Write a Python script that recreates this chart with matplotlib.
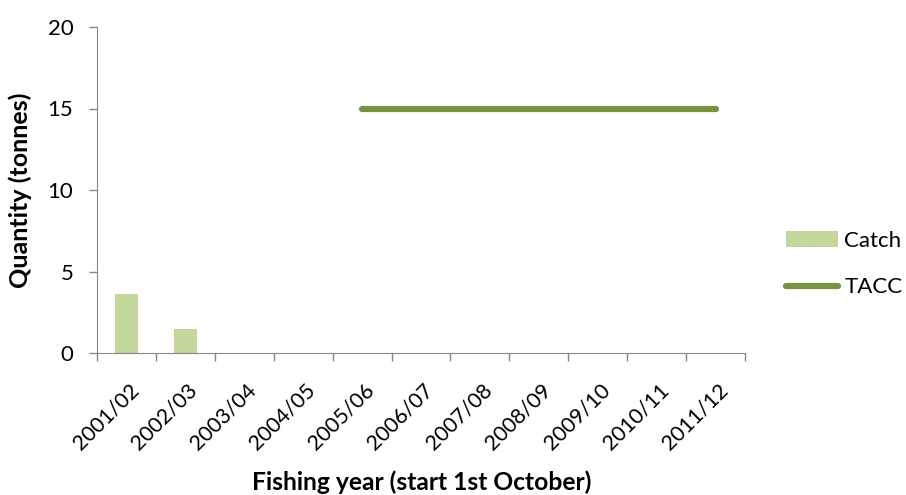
import matplotlib
matplotlib.use("Agg")
import matplotlib.pyplot as plt
import matplotlib.transforms as mtransforms
import numpy as np

years = ["2001/02", "2002/03", "2003/04", "2004/05", "2005/06", "2006/07",
         "2007/08", "2008/09", "2009/10", "2010/11", "2011/12"]
catch = [3.6, 1.5, 0, 0, 0, 0, 0, 0, 0, 0, 0]
tacc_years = ["2005/06", "2006/07", "2007/08", "2008/09", "2009/10", "2010/11", "2011/12"]
tacc = [15, 15, 15, 15, 15, 15, 15]

plt.rcParams['font.family'] = ['Lato', 'DejaVu Sans']

fig = plt.figure(figsize=(9.06, 4.95), dpi=100)
ax = fig.add_axes([97/906, 1-353/495, (745-97)/906, (353-27)/495])

x = np.arange(len(years))
bars = ax.bar(x, catch, width=0.4, color="#C3D69B", label="Catch", zorder=2)
tx = [years.index(y) for y in tacc_years]
line, = ax.plot(tx, tacc, color="#77933C", lw=4.5, solid_capstyle="round", label="TACC", zorder=3)

ax.set_xlim(-0.5, len(years) - 0.5)
ax.set_ylim(0, 20)
ax.set_yticks([0, 5, 10, 15, 20])
ax.set_xticks(np.arange(len(years) + 1) - 0.5)
ax.set_xticklabels([])
ax.set_xticks(x, minor=True)
ax.set_xticklabels(years, minor=True, rotation=45, ha="right", va="center",
                   rotation_mode="anchor", fontsize=15.5)
ax.tick_params(axis="x", which="minor", length=0, pad=24.5)
ax.tick_params(axis="x", which="major", length=6, color="#868686", width=1)
ax.tick_params(axis="y", length=6, color="#868686", width=1, labelsize=16, pad=11)
off = mtransforms.ScaledTranslation(9/100, 0, fig.dpi_scale_trans)
for lab in ax.get_xticklabels(minor=True):
    lab.set_transform(lab.get_transform() + off)

for s in ["top", "right"]:
    ax.spines[s].set_visible(False)
for s in ["left", "bottom"]:
    ax.spines[s].set_color("#868686")

ax.set_ylabel("Quantity (tonnes)", fontsize=18, fontweight="bold", va="center")
ax.yaxis.set_label_coords((20-97)/648, 0.5)
fig.text(422/906, 1-490/495, "Fishing year (start 1st October)", ha="center", va="baseline",
         fontsize=17.7, fontweight="bold")

leg = fig.legend(handles=[bars, line], labels=["Catch", "TACC"], loc="center left",
                 bbox_to_anchor=(786/906, 1-264/495), frameon=False, borderpad=0,
                 borderaxespad=0, fontsize=16, handlelength=2.35, handletextpad=0.27,
                 labelspacing=1.2)

fig.savefig("out.png", dpi=100)
